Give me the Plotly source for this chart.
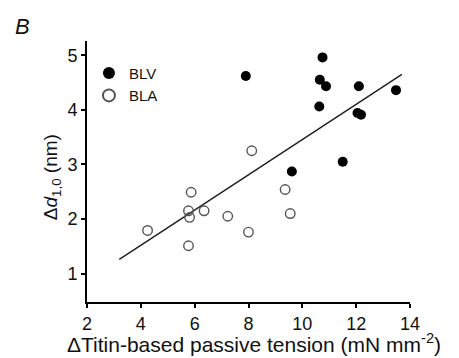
import plotly.graph_objects as go

# Data
blv_x = [7.9, 10.75, 10.65, 10.88, 10.63, 12.1, 12.05, 12.18, 13.48, 9.61, 11.5]
blv_y = [4.62, 4.96, 4.55, 4.43, 4.06, 4.43, 3.94, 3.91, 4.36, 2.87, 3.05]

bla_x = [4.25, 5.77, 5.77, 5.81, 5.87, 6.35, 7.23, 8.0, 8.12, 9.36, 9.55]
bla_y = [1.79, 1.51, 2.15, 2.03, 2.49, 2.15, 2.05, 1.76, 3.25, 2.54, 2.10]

fit_x = [3.2, 13.7]
fit_y = [1.26, 4.65]

x_ticks = [2, 4, 6, 8, 10, 12, 14]
y_ticks = [1, 2, 3, 4, 5]

FONT = "Liberation Sans, Arial, sans-serif"

fig = go.Figure()
fig.add_trace(go.Scatter(x=fit_x, y=fit_y, mode="lines",
                         line=dict(color="#222", width=1.5), showlegend=False))
fig.add_trace(go.Scatter(x=blv_x, y=blv_y, mode="markers", name="BLV",
                         marker=dict(symbol="circle", size=10, color="black",
                                     line=dict(width=0))))
fig.add_trace(go.Scatter(x=bla_x, y=bla_y, mode="markers", name="BLA",
                         marker=dict(symbol="circle-open", size=9.5, color="#555",
                                     line=dict(width=1.4, color="#555"))))

axis_common = dict(showgrid=False, zeroline=False, showline=True, linecolor="black",
                   linewidth=2, ticks="outside", ticklen=4, tickwidth=2, tickcolor="black",
                   automargin=False,
                   tickfont=dict(family=FONT, size=18, color="#111"))

fig.update_layout(
    width=459, height=358,
    margin=dict(l=87, r=49, t=41, b=56),
    paper_bgcolor="white", plot_bgcolor="white",
    font=dict(family=FONT, color="#111"),
    xaxis=dict(range=[2, 14], tickvals=x_ticks, **axis_common),
    yaxis=dict(range=[0.48, 5.26], tickvals=y_ticks, **axis_common),
    legend=dict(x=0.006, y=0.94, xanchor="left", yanchor="top",
                font=dict(family=FONT, size=15, color="#111"),
                bgcolor="rgba(0,0,0,0)", tracegroupgap=0, itemsizing="constant"),
    annotations=[
        dict(text="<i>B</i>", xref="paper", yref="paper", x=-0.228, y=1.055,
             xanchor="left", yanchor="middle", showarrow=False,
             font=dict(family=FONT, size=22, color="#111")),
        dict(text="ΔTitin-based passive tension (mN mm<sup>-2</sup>)",
             xref="paper", yref="paper", x=0.517, y=-0.158,
             xanchor="center", yanchor="middle", showarrow=False,
             font=dict(family=FONT, size=21, color="#111")),
        dict(text="Δ<i>d</i><sub>1,0</sub> (nm)", textangle=-90,
             xref="paper", yref="paper", x=-0.11, y=0.48,
             xanchor="center", yanchor="middle", showarrow=False,
             font=dict(family=FONT, size=19, color="#111")),
    ],
)

fig.write_html("out.html", config={"displayModeBar": False},
               post_script="document.body.style.margin='0';document.body.style.overflow='hidden';")
